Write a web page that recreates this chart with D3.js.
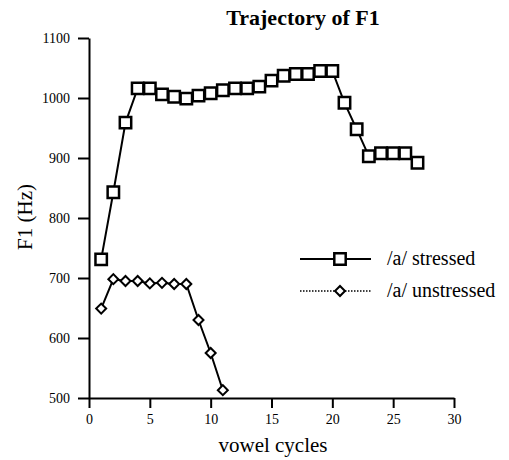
<!DOCTYPE html>
<html>
<head>
<meta charset="utf-8">
<script src="https://cdn.jsdelivr.net/npm/d3@7"></script>
<style>
  body { margin: 0; background: #fff; }
  svg { display: block; font-family: "Liberation Serif", "Times New Roman", serif; }
  text { fill: #000; }
</style>
</head>
<body>
<script>
// chart values
var stressedX = [1, 2, 3, 4, 5, 6, 7, 8, 9, 10, 11, 12, 13, 14, 15, 16, 17, 18, 19, 20, 21, 22, 23, 24, 25, 26, 27];
var stressedF1 = [731, 843, 959, 1016, 1016, 1006, 1002, 999, 1004, 1008, 1013, 1016, 1016, 1019, 1029, 1037, 1040, 1040, 1045, 1045, 992, 948, 903, 908, 908, 908, 892];
var unstressedX = [1, 2, 3, 4, 5, 6, 7, 8, 9, 10, 11];
var unstressedF1 = [649, 698, 695, 695, 691, 692, 690, 690, 630, 575, 513];
var xTicks = [0, 5, 10, 15, 20, 25, 30];
var yTicks = [500, 600, 700, 800, 900, 1000, 1100];
var seriesNames = ['/a/ stressed', '/a/ unstressed'];

var width = 509,
    height = 460;

var svg = d3
    .select('body')
    .append('svg')
    .attr('width', width)
    .attr('height', height);

var xScale = d3.scaleLinear().domain([0, 30]).range([89, 454]);
var yScale = d3.scaleLinear().domain([500, 1100]).range([398, 38]);

// title
svg.append('text')
    .attr('x', 303)
    .attr('y', 25)
    .attr('text-anchor', 'middle')
    .style('font-size', '22px')
    .style('font-weight', 'bold')
    .text('Trajectory of F1');

// axes
var xAxis = svg.append('g')
    .attr('transform', 'translate(0,' + yScale(500) + ')')
    .call(d3.axisBottom(xScale).tickValues(xTicks).tickFormat(d3.format('d'))
        .tickSize(10).tickSizeOuter(0).tickPadding(6));
var yAxis = svg.append('g')
    .attr('transform', 'translate(' + xScale(0) + ',0)')
    .call(d3.axisLeft(yScale).tickValues(yTicks).tickFormat(d3.format('d'))
        .tickSize(11).tickSizeOuter(0).tickPadding(8));

[xAxis, yAxis].forEach(function (ax) {
    ax.select('.domain').attr('stroke', '#000').attr('stroke-width', 2);
    ax.selectAll('.tick line').attr('stroke', '#000').attr('stroke-width', 2);
    ax.selectAll('.tick text')
        .attr('fill', '#000')
        .style('font-family', '"Liberation Serif", serif')
        .style('font-size', '14px');
});

// axis titles
svg.append('text')
    .attr('x', 273)
    .attr('y', 452)
    .attr('text-anchor', 'middle')
    .style('font-size', '21px')
    .text('vowel cycles');

svg.append('text')
    .attr('transform', 'translate(32,217) rotate(-90)')
    .attr('text-anchor', 'middle')
    .style('font-size', '21px')
    .text('F1 (Hz)');

var line = d3.line()
    .x(function (d) { return xScale(d.x); })
    .y(function (d) { return yScale(d.y); });

var stressed = stressedX.map(function (x, i) { return { x: x, y: stressedF1[i] }; });
var unstressed = unstressedX.map(function (x, i) { return { x: x, y: unstressedF1[i] }; });

var squareSym = d3.symbol().type(d3.symbolSquare).size(130);
var diamondSym = d3.symbol().type(d3.symbolSquare).size(50);

function drawSeries(data, sym, sw, rot) {
    svg.append('path')
        .datum(data)
        .attr('fill', 'none')
        .attr('stroke', '#000')
        .attr('stroke-width', 2)
        .attr('d', line);
    svg.append('g')
        .selectAll('path')
        .data(data)
        .enter()
        .append('path')
        .attr('transform', function (d) {
            return 'translate(' + xScale(d.x) + ',' + yScale(d.y) + ') rotate(' + rot + ')';
        })
        .attr('d', sym)
        .attr('fill', '#fff')
        .attr('stroke', '#000')
        .attr('stroke-width', sw);
}

drawSeries(stressed, squareSym, 2.5, 0);
drawSeries(unstressed, diamondSym, 2, 45);

// legend
var legend = svg.append('g');
var legendRows = [
    { y: 259, sym: squareSym, dash: null, sw: 2.5, rot: 0 },
    { y: 291, sym: diamondSym, dash: '1.5,1.5', sw: 2, rot: 45 }
];
legendRows.forEach(function (r, i) {
    legend.append('line')
        .attr('x1', 300).attr('x2', 371)
        .attr('y1', r.y).attr('y2', r.y)
        .attr('stroke', '#000')
        .attr('stroke-width', i === 0 ? 2 : 1.5)
        .attr('stroke-dasharray', r.dash);
    legend.append('path')
        .attr('transform', 'translate(340,' + r.y + ') rotate(' + r.rot + ')')
        .attr('d', r.sym)
        .attr('fill', '#fff')
        .attr('stroke', '#000')
        .attr('stroke-width', r.sw);
    legend.append('text')
        .attr('x', 387)
        .attr('y', r.y + 6)
        .style('font-size', '20px')
        .text(seriesNames[i]);
});
</script>
</body>
</html>
